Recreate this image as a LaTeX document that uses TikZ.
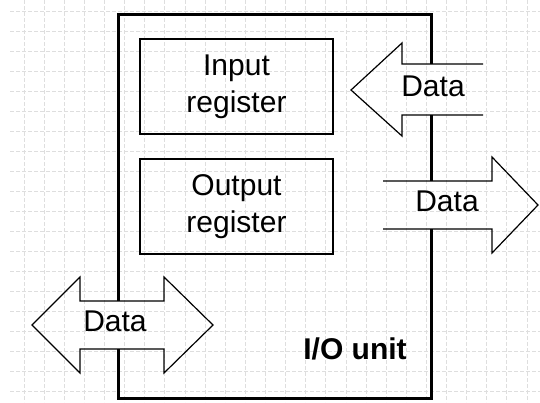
\documentclass[tikz,border=0pt]{standalone}
\usepackage{fontspec}
\setmainfont{Liberation Sans}
\begin{document}
\begin{tikzpicture}[x=1pt,y=-1pt,
  gridline/.style={draw=black!13, line width=0.8pt, dash pattern=on 4pt off 2pt},
  unitline/.style={draw=black, line width=3pt},
  regbox/.style={draw=black, line width=1.3pt, minimum width=193pt, minimum height=95pt},
  blockarrow/.style={draw=black, line width=1.2pt, line join=miter},
  lbl/.style={inner sep=0pt, font=\fontsize{30}{37}\selectfont, align=center}]
\useasboundingbox (0,0) rectangle (540,402);
\fill[white] (0,0) rectangle (540,402);
% background grid
\foreach \k in {0,...,25} \draw[gridline] ({24+20.12*\k},0) -- ({24+20.12*\k},402);
\foreach \k in {0,...,19} \draw[gridline] (10,{11+20*\k}) -- (540,{11+20*\k});
% I/O unit outline (broken where the data arrows pass)
\coordinate (tl) at (118,14);
\coordinate (tr) at (431,14);
\coordinate (br) at (431,398);
\coordinate (bl) at (118,398);
\draw[unitline] (118,301) -- (tl) -- (tr) -- (431,64);
\draw[unitline] (431,115) -- (431,181);
\draw[unitline] (431,229) -- (br) -- (bl) -- (118,349);
% registers
\node[regbox, lbl] (inreg) at (236.5,86.5) {Input\\register};
\node[regbox, lbl] (outreg) at (236.5,206.5) {Output\\register};
% block arrows
\draw[blockarrow] (483,64) -- (402,64) -- (402,43) -- (351,90) -- (402,136) -- (402,115) -- (483,115);
\draw[blockarrow] (383,181) -- (492,181) -- (492,157) -- (538,205) -- (492,253) -- (492,229) -- (383,229);
\draw[blockarrow] (80,301) -- (164,301) -- (164,277) -- (213,325) -- (164,373) -- (164,349) -- (80,349) -- (80,373) -- (32,325) -- (80,277) -- cycle;
% labels
\node[lbl] (d1) at (433,86) {Data};
\node[lbl] (d2) at (447,201) {Data};
\node[lbl] (d3) at (115,321) {Data};
\node[lbl, font=\fontsize{30}{37}\selectfont\bfseries] (io) at (355,349) {I/O unit};
\end{tikzpicture}
\end{document}
